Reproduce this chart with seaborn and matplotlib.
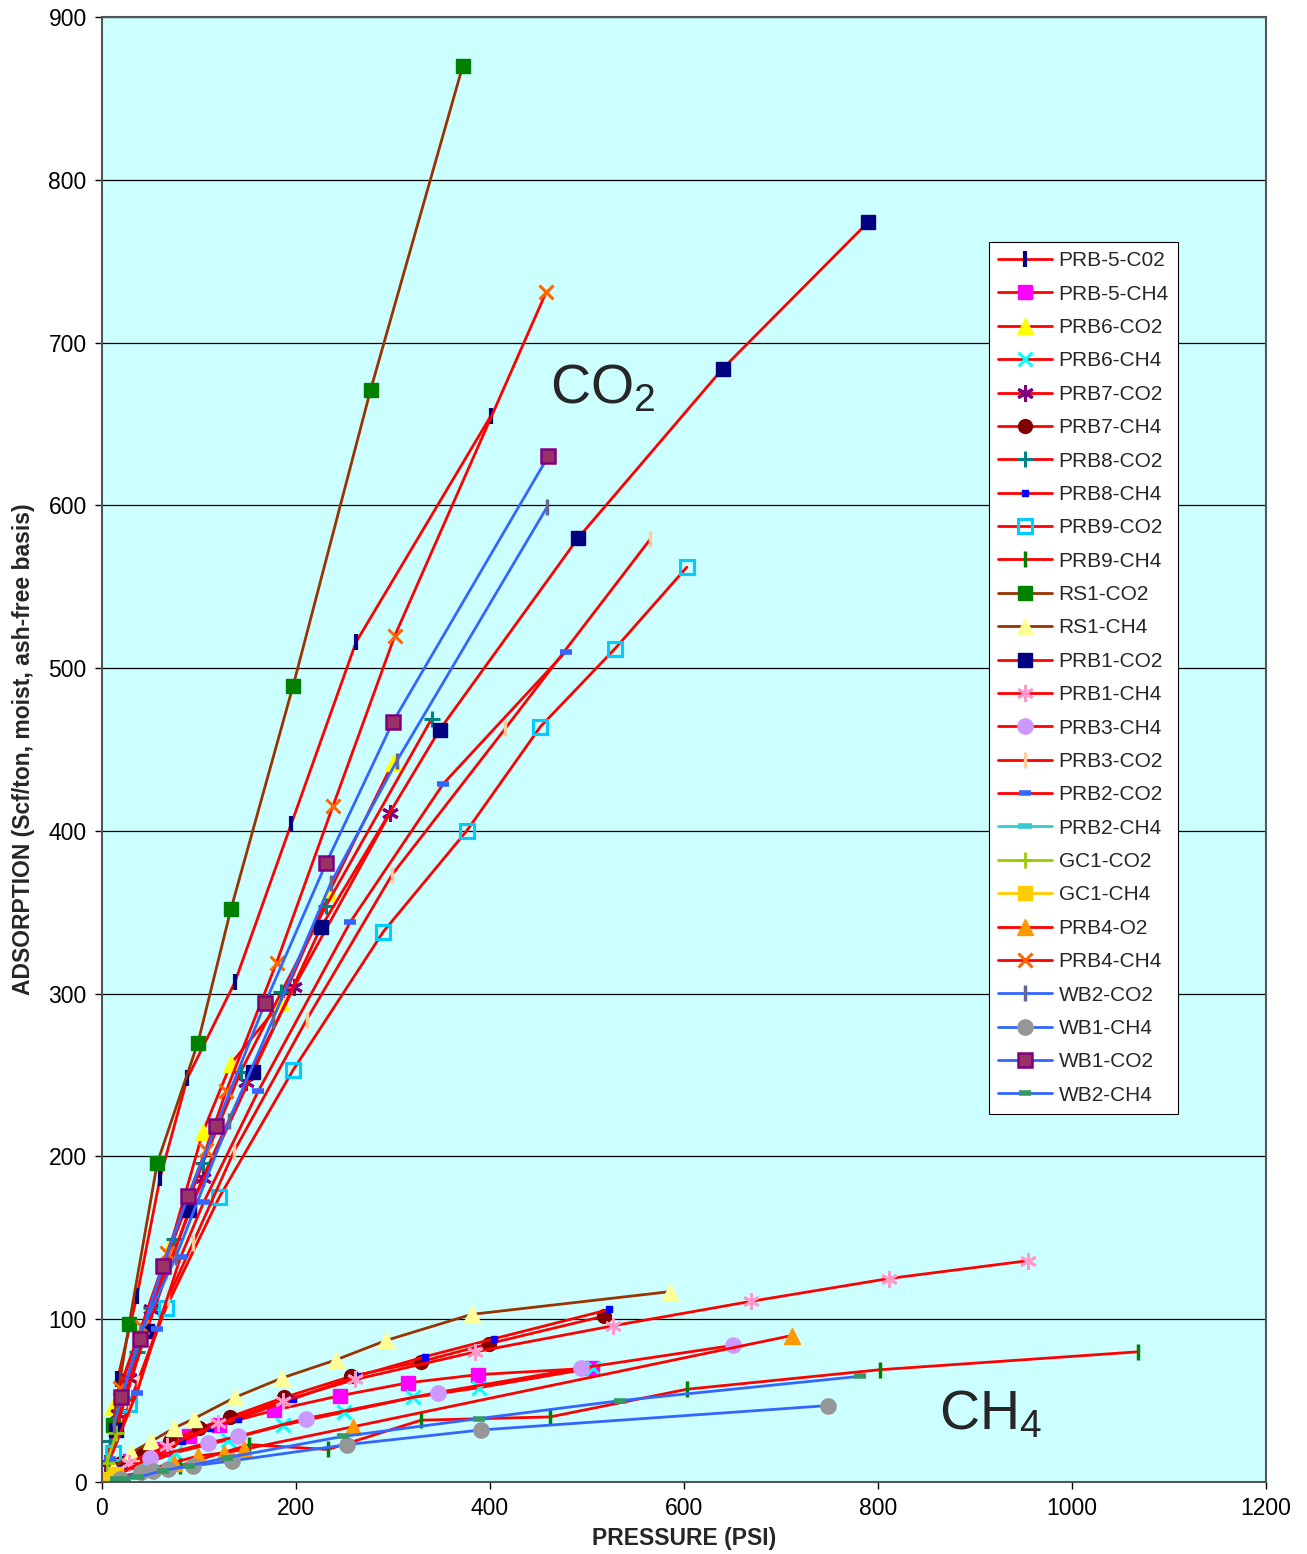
import matplotlib
matplotlib.use("Agg")
import matplotlib.pyplot as plt
import seaborn as sns
import pandas as pd

# series names (legend order)
names = ["PRB-5-C02", "PRB-5-CH4", "PRB6-CO2", "PRB6-CH4", "PRB7-CO2", "PRB7-CH4",
         "PRB8-CO2", "PRB8-CH4", "PRB9-CO2", "PRB9-CH4", "RS1-CO2", "RS1-CH4",
         "PRB1-CO2", "PRB1-CH4", "PRB3-CH4", "PRB3-CO2", "PRB2-CO2", "PRB2-CH4",
         "GC1-CO2", "GC1-CH4", "PRB4-O2", "PRB4-CH4", "WB2-CO2", "WB1-CH4",
         "WB1-CO2", "WB2-CH4"]

# pressure (psi) / adsorption (scf/ton)
prb5_co2_p = [16, 36, 60, 88, 137, 195, 262, 401]
prb5_co2_a = [63, 114, 187, 248, 307, 404, 516, 655]
prb5_ch4_p = [29, 63, 90, 121, 177, 245, 316, 388, 505]
prb5_ch4_a = [13, 20, 28, 35, 44, 53, 61, 66, 70]
prb6_co2_p = [11, 71, 104, 133, 185, 234, 300]
prb6_co2_a = [46, 146, 215, 257, 295, 362, 442]
prb6_ch4_p = [15, 40, 75, 130, 187, 250, 321, 389, 506]
prb6_ch4_a = [5, 10, 18, 26, 35, 43, 52, 58, 70]
prb7_co2_p = [3, 17, 28, 51, 104, 149, 198, 297]
prb7_co2_a = [12, 42, 64, 106, 187, 246, 304, 411]
prb7_ch4_p = [20, 42, 70, 100, 132, 188, 257, 329, 399, 518]
prb7_ch4_a = [12, 18, 25, 33, 40, 52, 65, 74, 85, 102]
prb8_co2_p = [8, 36, 51, 74, 104, 143, 185, 231, 340]
prb8_co2_a = [25, 80, 107, 149, 196, 252, 301, 354, 469]
prb8_ch4_p = [20, 53, 83, 111, 140, 197, 263, 333, 404, 523]
prb8_ch4_a = [8, 16, 25, 33, 39, 51, 65, 77, 88, 106]
prb9_co2_p = [11, 28, 66, 121, 197, 290, 376, 452, 529, 603]
prb9_co2_a = [18, 48, 107, 175, 253, 338, 400, 464, 512, 562]
prb9_ch4_p = [20, 80, 152, 233, 329, 462, 603, 802, 1068]
prb9_ch4_a = [3, 10, 23, 20, 38, 40, 57, 69, 80]
rs1_co2_p = [11, 28, 57, 99, 133, 197, 277, 372]
rs1_co2_a = [35, 97, 196, 270, 352, 489, 671, 870]
rs1_ch4_p = [11, 30, 51, 74, 95, 137, 186, 241, 293, 381, 586]
rs1_ch4_a = [8, 18, 25, 33, 39, 52, 64, 75, 87, 103, 117]
prb1_co2_p = [14, 46, 90, 156, 226, 348, 491, 640, 790]
prb1_co2_a = [32, 93, 167, 252, 341, 462, 580, 684, 774]
prb1_ch4_p = [28, 67, 120, 187, 261, 385, 527, 669, 811, 955]
prb1_ch4_a = [12, 22, 36, 50, 63, 80, 96, 111, 125, 136]
prb3_ch4_p = [8, 50, 109, 140, 210, 346, 494, 651]
prb3_ch4_a = [2, 15, 24, 28, 39, 55, 70, 84]
prb3_co2_p = [28, 37, 68, 94, 136, 211, 299, 416, 565]
prb3_co2_a = [45, 61, 113, 147, 203, 284, 373, 463, 579]
prb2_co2_p = [8, 36, 57, 81, 105, 161, 256, 352, 478]
prb2_co2_a = [14, 55, 94, 138, 172, 240, 344, 429, 510]
prb2_ch4_p = [12, 28, 48]
prb2_ch4_a = [2, 4, 6]
gc1_co2_p = [5, 15]
gc1_co2_a = [12, 30]
gc1_ch4_p = [5, 15]
gc1_ch4_a = [2, 5]
prb4_o2_p = [20, 74, 99, 126, 146, 259, 711]
prb4_o2_a = [3, 12, 16, 18, 20, 34, 90]
prb4_ch4_p = [19, 41, 67, 107, 128, 180, 238, 302, 458]
prb4_ch4_a = [58, 95, 141, 204, 240, 319, 415, 520, 731]
wb2_co2_p = [12, 40, 76, 131, 176, 236, 304, 459]
wb2_co2_a = [35, 92, 138, 222, 284, 368, 443, 599]
wb1_ch4_p = [19, 40, 53, 68, 94, 134, 253, 391, 749]
wb1_ch4_a = [2, 6, 7, 8, 10, 13, 23, 32, 47]
wb1_co2_p = [20, 39, 63, 89, 118, 168, 231, 300, 460]
wb1_co2_a = [52, 88, 133, 176, 219, 294, 380, 467, 630]
wb2_ch4_p = [14, 24, 37, 63, 90, 129, 248, 389, 534, 782]
wb2_ch4_a = [2, 2, 3, 7, 10, 15, 28, 39, 50, 65]

pressures = [prb5_co2_p, prb5_ch4_p, prb6_co2_p, prb6_ch4_p, prb7_co2_p, prb7_ch4_p,
             prb8_co2_p, prb8_ch4_p, prb9_co2_p, prb9_ch4_p, rs1_co2_p, rs1_ch4_p,
             prb1_co2_p, prb1_ch4_p, prb3_ch4_p, prb3_co2_p, prb2_co2_p, prb2_ch4_p,
             gc1_co2_p, gc1_ch4_p, prb4_o2_p, prb4_ch4_p, wb2_co2_p, wb1_ch4_p,
             wb1_co2_p, wb2_ch4_p]
adsorptions = [prb5_co2_a, prb5_ch4_a, prb6_co2_a, prb6_ch4_a, prb7_co2_a, prb7_ch4_a,
               prb8_co2_a, prb8_ch4_a, prb9_co2_a, prb9_ch4_a, rs1_co2_a, rs1_ch4_a,
               prb1_co2_a, prb1_ch4_a, prb3_ch4_a, prb3_co2_a, prb2_co2_a, prb2_ch4_a,
               gc1_co2_a, gc1_ch4_a, prb4_o2_a, prb4_ch4_a, wb2_co2_a, wb1_ch4_a,
               wb1_co2_a, wb2_ch4_a]

rows = []
for n, ps, ads in zip(names, pressures, adsorptions):
    for i, (p, a) in enumerate(zip(ps, ads)):
        rows.append({"series": n, "order": i, "pressure": p, "adsorption": a})
df = pd.DataFrame(rows)

RED = "#FF0000"
BROWN = "#993300"
BLUE = "#3366FF"
AST = (6, 2, 0)
# line colour, marker, face colour, edge colour, marker size, edge width
styles = {
    "PRB-5-C02": (RED, "|", "#000080", "#000080", 11, 3),
    "PRB-5-CH4": (RED, "s", "#FF00FF", "#FF00FF", 10, 1),
    "PRB6-CO2": (RED, "^", "#FFFF00", "#FFFF00", 11, 1),
    "PRB6-CH4": (RED, "x", "#00FFFF", "#00FFFF", 10, 2.2),
    "PRB7-CO2": (RED, AST, "#800080", "#800080", 12, 2.2),
    "PRB7-CH4": (RED, "o", "#800000", "#800000", 10, 1),
    "PRB8-CO2": (RED, "+", "#008080", "#008080", 12, 2.2),
    "PRB8-CH4": (RED, "s", "#0000FF", "#0000FF", 5, 1),
    "PRB9-CO2": (RED, "s", "none", "#00CCFF", 10, 2.2),
    "PRB9-CH4": (RED, "|", "#008000", "#008000", 11, 2.5),
    "RS1-CO2": (BROWN, "s", "#008000", "#008000", 10, 1),
    "RS1-CH4": (BROWN, "^", "#FFFF99", "#FFFF99", 11, 1),
    "PRB1-CO2": (RED, "s", "#000080", "#000080", 10, 1),
    "PRB1-CH4": (RED, AST, "#FF99CC", "#FF99CC", 12, 2),
    "PRB3-CH4": (RED, "o", "#CC99FF", "#CC99FF", 11, 1),
    "PRB3-CO2": (RED, "|", "#FFCC99", "#FFCC99", 11, 2.5),
    "PRB2-CO2": (RED, "_", "#3366FF", "#3366FF", 9, 4),
    "PRB2-CH4": ("#33CCCC", "_", "#33CCCC", "#33CCCC", 10, 4),
    "GC1-CO2": ("#99CC00", "+", "#99CC00", "#99CC00", 12, 2),
    "GC1-CH4": ("#FFCC00", "s", "#FFCC00", "#FFCC00", 10, 1),
    "PRB4-O2": (RED, "^", "#FF9900", "#FF9900", 11, 1),
    "PRB4-CH4": (RED, "x", "#FF6600", "#FF6600", 10, 2.2),
    "WB2-CO2": (BLUE, "|", "#666699", "#666699", 11, 2.5),
    "WB1-CH4": (BLUE, "o", "#969696", "#969696", 11, 1),
    "WB1-CO2": (BLUE, "s", "#993366", "#800080", 10, 1.8),
    "WB2-CH4": (BLUE, "_", "#339966", "#339966", 8, 4),
}

sns.set_style("white")
plt.rcParams["font.family"] = ["Liberation Sans", "DejaVu Sans"]
plt.rcParams["mathtext.fontset"] = "custom"
plt.rcParams["mathtext.rm"] = "Liberation Sans"
plt.rcParams["mathtext.it"] = "Liberation Sans"

fig = plt.figure(figsize=(13.07, 15.54), dpi=100)
ax = fig.add_axes([0.078, 0.0463, 0.8906, 0.9428])
ax.set_facecolor("#CCFFFF")

for n in names:
    lc, mk, fc, ec, ms, mew = styles[n]
    sub = df[df["series"] == n]
    sns.lineplot(data=sub, x="pressure", y="adsorption", ax=ax, sort=False,
                 estimator=None, color=lc, linewidth=2, marker=mk,
                 markersize=ms, markerfacecolor=fc, markeredgecolor=ec,
                 markeredgewidth=mew, label=n)

ax.set_xlim(0, 1200)
ax.set_ylim(0, 900)
ax.set_xticks(range(0, 1201, 200))
ax.set_yticks(range(0, 901, 100))
ax.grid(axis="y", color="black", linewidth=0.9)
ax.grid(axis="x", visible=False)
ax.tick_params(axis="both", labelsize=16.5, direction="out", length=5, width=1,
               pad=6, colors="black", bottom=True, left=True)
for s in ax.spines.values():
    s.set_color("#555555")
    s.set_linewidth(1.5)

ax.set_xlabel("PRESSURE (PSI)", fontsize=16.5, fontweight="bold", labelpad=5)
ax.set_ylabel("ADSORPTION (Scf/ton, moist, ash-free basis)", fontsize=16.5,
              fontweight="bold", labelpad=10)

ax.text(516, 671, "CO$_2$", fontsize=40, ha="center", va="center")
ax.text(916, 41, "CH$_4$", fontsize=40, ha="center", va="center")

leg = ax.legend(loc="upper left", bbox_to_anchor=(0.762, 0.8464), fontsize=15,
                frameon=True, fancybox=False, edgecolor="black",
                facecolor="white", framealpha=1, labelspacing=0.69,
                handlelength=2.6, handletextpad=0.3, borderpad=0.45,
                borderaxespad=0)
leg.get_frame().set_linewidth(0.8)

fig.savefig("out.png", dpi=100, facecolor="white")
